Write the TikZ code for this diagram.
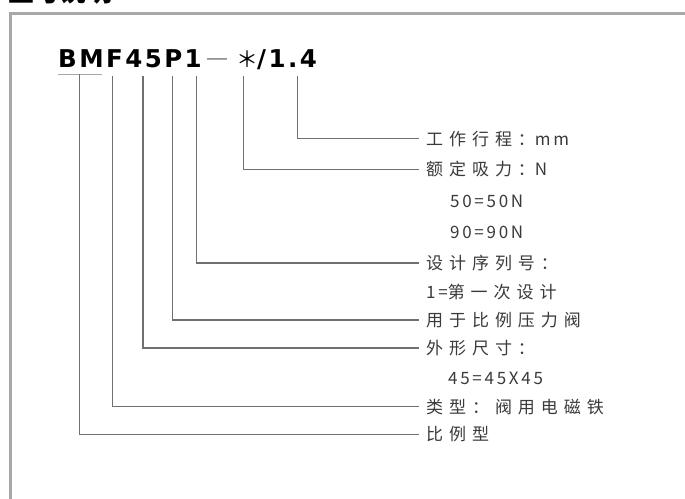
\documentclass[tikz,border=0pt]{standalone}
\usepackage{fontspec}
\setmainfont{Liberation Sans}
\newfontfamily\cjk[LetterSpace=35]{Noto Sans CJK SC}
\newfontfamily\latn[LetterSpace=16]{Noto Sans CJK SC}
\newfontfamily\cjktitle{Noto Sans CJK SC}
\newfontfamily\codefont[LetterSpace=10]{DejaVu Sans}
\definecolor{framegray}{HTML}{A8A8A8}
\definecolor{linegray}{HTML}{707070}
\definecolor{labelgray}{HTML}{3A3A3A}
\tikzset{
  lbl/.style={anchor=west, inner xsep=7pt, inner ysep=0pt, text height=13pt, text depth=0pt,
    text=labelgray, font=\cjk\fontsize{17}{17}\selectfont},
  conn/.style={draw=linegray, line width=1.2pt},
  codebold/.style={anchor=base west, inner sep=0pt, font=\codefont\bfseries\fontsize{24.5}{24.5}\selectfont},
}
\newcommand{\lt}[1]{{\latn #1}}
\begin{document}
\begin{tikzpicture}[x=1pt,y=-1pt]
\useasboundingbox (0,0) rectangle (685,498);
\begin{scope}
\clip (0,0) rectangle (685,498);
% partially visible title
\node[anchor=base west, inner sep=0pt, font=\cjktitle\bfseries\fontsize{26}{26}\selectfont] (title) at (8,1.5) {型号说明};
% frame
\draw[framegray, line width=3.5pt] (10.5,500) -- (10.5,13.5) -- (690,13.5);
\end{scope}

% model code
\node[codebold] (code) at (58,67) {BMF45P1};
\node[anchor=base west, inner sep=0pt, text=linegray, font=\fontsize{20}{20}\selectfont] (dash) at (207,67) {\raisebox{3pt}{—}};
\node[anchor=base, inner sep=0pt, font=\cjktitle\fontsize{22}{22}\selectfont] (star) at (247.5,67) {＊};
\node[codebold] (num) at (257,67) {/1.4};
\draw[draw=framegray, line width=1.2pt] (58,74.3) -- (102,74.3);

% connector tops
\coordinate (t1) at (297.8,76);
\coordinate (t2) at (243.7,76);
\coordinate (t3) at (196.7,76);
\coordinate (t4) at (172.5,76);
\coordinate (t5) at (143,76);
\coordinate (t6) at (112.7,76);
\coordinate (t7) at (79.5,74.3);

% labels
\node[lbl] (l1) at (419,138.5) {工作行程：\lt{mm}};
\node[lbl] (l2) at (419,169.3) {额定吸力：\lt{N}};
\node[lbl] (v50) at (443,201) {\lt{50=50N}};
\node[lbl] (v90) at (443,232) {\lt{90=90N}};
\node[lbl] (l3) at (419,263) {设计序列号：};
\node[lbl] (v1) at (419,292) {\lt{1=}第一次设计};
\node[lbl] (l4) at (419,320) {用于比例压力阀};
\node[lbl] (l5) at (419,348) {外形尺寸：};
\node[lbl] (v45) at (441,378) {\lt{45=45X45}};
\node[lbl] (l6) at (419,406.7) {类型：阀用电磁铁};
\node[lbl] (l7) at (419,434.3) {比例型};

% connectors
\draw[conn] (t1) |- (l1.west);
\draw[conn] (t2) |- (l2.west);
\draw[conn] (t3) |- (l3.west);
\draw[conn] (t4) |- (l4.west);
\draw[conn] (t5) |- (l5.west);
\draw[conn] (t6) |- (l6.west);
\draw[conn] (t7) |- (l7.west);
\end{tikzpicture}
\end{document}
